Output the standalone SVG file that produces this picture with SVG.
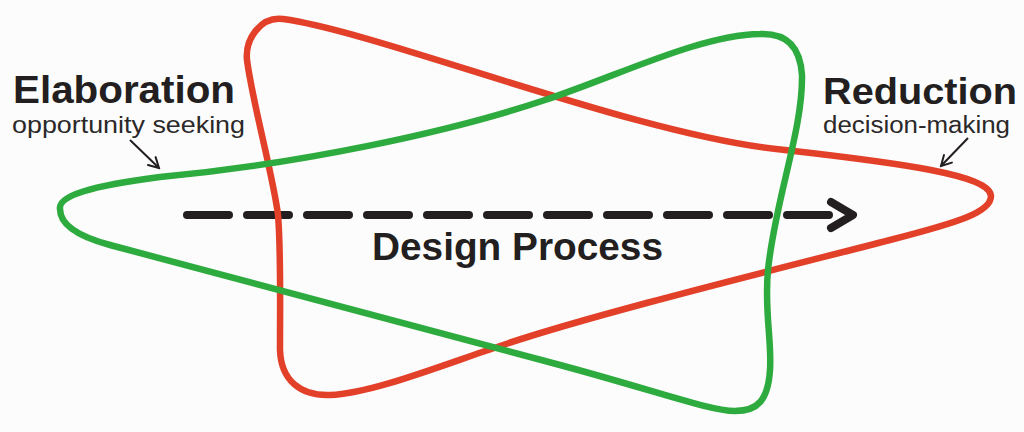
<svg xmlns="http://www.w3.org/2000/svg" width="1024" height="432" viewBox="0 0 1024 432">
  <defs>
    <marker id="openhead" viewBox="-12 -7 14 14" markerWidth="14" markerHeight="14" refX="0" refY="0" orient="auto" markerUnits="userSpaceOnUse">
      <path d="M -10,-5.5 L 0,0 L -10,5.5" fill="none" stroke="#231f20" stroke-width="2" stroke-linecap="round" stroke-linejoin="miter"/>
    </marker>
  </defs>
  <style>
    .loop { fill: none; stroke-width: 6.5; stroke-linejoin: round; }
    .red { stroke: #e3402a; }
    .green { stroke: #2eab3f; }
    .title { font-family: "Liberation Sans", Arial, sans-serif; font-weight: bold; fill: #231f20; }
    .sub { font-family: "Liberation Sans", Arial, sans-serif; font-weight: normal; fill: #2b2829; }
    .dash { fill: none; stroke: #231f20; stroke-width: 8; stroke-linecap: round; stroke-linejoin: round; }
    .note { fill: none; stroke: #231f20; stroke-width: 2; }
  </style>
  <rect x="0" y="0" width="1024" height="432" fill="#fcfcfc"/>

  <g id="connectors">
    <line class="dash" x1="187" y1="215" x2="829" y2="215" stroke-dasharray="42 18"/>
    <polyline class="dash" points="831,202 853,215 831,228"/>
    <line class="note" x1="130" y1="140" x2="159" y2="168" marker-end="url(#openhead)"/>
    <line class="note" x1="968" y1="138" x2="941" y2="166" marker-end="url(#openhead)"/>
  </g>

  <g id="red-loop">
    <path class="loop red" d="M 247,60 C 245,40 260,16 283,19 C 380,32 640,137 785,150 C 900,163 990,175 991,196 C 991,212 960,222 890,240 C 790,266 590,315 500,346 C 440,366 370,394 330,395 C 300,396 281,380 280,350 C 280,300 281,250 278,215 C 274,180 252,100 247,60 Z"/>
  </g>

  <g id="green-loop">
    <path class="loop green" d="M 60,209 C 58,196 90,186 160,177 C 300,164 450,132 545,100 C 620,75 700,35 760,34 C 785,33 800,45 802,75 C 803,130 775,200 768,270 C 764,310 772,340 770,370 C 768,400 758,411 735,411 C 710,411 660,392 560,365 L 110,245 C 80,237 60,225 60,209 Z"/>
  </g>

  <g id="elaboration-label">
    <text class="title" x="13" y="103" font-size="38" textLength="222" lengthAdjust="spacingAndGlyphs">Elaboration</text>
    <text class="sub" x="12" y="133" font-size="24" textLength="233" lengthAdjust="spacingAndGlyphs">opportunity seeking</text>
  </g>

  <g id="reduction-label">
    <text class="title" x="823" y="104" font-size="37" textLength="194" lengthAdjust="spacingAndGlyphs">Reduction</text>
    <text class="sub" x="823" y="133" font-size="23.5" textLength="187" lengthAdjust="spacingAndGlyphs">decision-making</text>
  </g>

  <g id="design-process-label">
    <text class="title" x="372" y="260" font-size="38" textLength="291" lengthAdjust="spacingAndGlyphs">Design Process</text>
  </g>
</svg>
